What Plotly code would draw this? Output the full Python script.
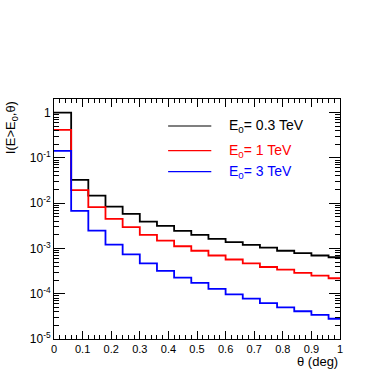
import plotly.graph_objects as go

# bin lower edges in theta (deg); histogram bins are 0.06 wide, last one runs past 1
theta_lo = [0.00, 0.06, 0.12, 0.18, 0.24, 0.30, 0.36, 0.42, 0.48,
            0.54, 0.60, 0.66, 0.72, 0.78, 0.84, 0.90, 0.96]
theta_hi_last = 1.02

# integral flux I(E>E0, theta)
I_03TeV = [1.0, 0.0327, 0.0147, 0.0084, 0.0058, 0.0039, 0.00316, 0.00245, 0.0020,
           0.00163, 0.00138, 0.0012, 0.00104, 0.00089, 0.00079, 0.00070, 0.00064]
I_1TeV = [0.415, 0.0194, 0.0082, 0.0045, 0.00295, 0.0020, 0.00149, 0.00112, 0.00089,
          0.00070, 0.00057, 0.00047, 0.00039, 0.00034, 0.00029, 0.00025, 0.00022]
I_3TeV = [0.143, 0.0068, 0.00248, 0.00122, 0.00074, 0.00047, 0.00032, 0.000226, 0.000174,
          0.000128, 0.000097, 0.000078, 0.000062, 0.000050, 0.000041, 0.000034, 0.000028]

series = [
    ("E<sub>0</sub>= 0.3 TeV", I_03TeV, "#000000"),
    ("E<sub>0</sub>= 1 TeV", I_1TeV, "#ff0000"),
    ("E<sub>0</sub>= 3 TeV", I_3TeV, "#0000ff"),
]

FONT = "Liberation Sans, Arial, Helvetica, sans-serif"

fig = go.Figure()
for name, vals, col in series:
    fig.add_trace(go.Scatter(
        x=theta_lo + [theta_hi_last], y=vals + [vals[-1]],
        mode="lines", line=dict(color=col, width=1.8, shape="hv"),
        name=name, showlegend=False, cliponaxis=True))

# legend drawn by hand, ROOT TLegend style
leg_y = [0.8875, 0.785, 0.697]
for (name, vals, col), ly in zip(series, leg_y):
    fig.add_shape(type="line", xref="paper", yref="paper",
                  x0=0.399, x1=0.550, y0=ly, y1=ly,
                  line=dict(color=col, width=1.2))
    fig.add_annotation(xref="paper", yref="paper", x=0.605, y=ly,
                       xanchor="left", yanchor="middle", showarrow=False,
                       text=name, font=dict(color=col, size=14, family=FONT))

# axis titles, ROOT places them at the axis ends
fig.add_annotation(xref="paper", yref="paper", x=1.0, y=-0.095,
                   xanchor="right", yanchor="middle", showarrow=False,
                   text="θ (deg)", font=dict(size=13, family=FONT))
fig.add_annotation(xref="paper", yref="paper", x=-0.148, y=1.0,
                   xanchor="center", yanchor="top", showarrow=False, textangle=-90,
                   text="I(E>E<sub>0</sub>,θ)", font=dict(size=13, family=FONT))

y_major = [1e-5, 1e-4, 1e-3, 1e-2, 1e-1, 1]
y_text = ["10<sup>-5</sup>", "10<sup>-4</sup>", "10<sup>-3</sup>",
          "10<sup>-2</sup>", "10<sup>-1</sup>", "1"]
y_minor = [m * d for d in [1e-5, 1e-4, 1e-3, 1e-2, 1e-1, 1] for m in range(2, 10) if m * d <= 2.0]

fig.update_xaxes(range=[0, 1], tickmode="array",
                 tickvals=[0, 0.1, 0.2, 0.3, 0.4, 0.5, 0.6, 0.7, 0.8, 0.9, 1.0],
                 ticktext=["0", "0.1", "0.2", "0.3", "0.4", "0.5", "0.6", "0.7", "0.8", "0.9", "1"],
                 ticks="inside", ticklen=8, tickcolor="black", tickwidth=1,
                 minor=dict(ticks="inside", ticklen=4, tickcolor="black",
                            tickvals=[i * 0.02 for i in range(51)]),
                 showline=True, linecolor="black", linewidth=1, mirror="allticks",
                 showgrid=False, zeroline=False,
                 tickfont=dict(size=11, family=FONT, color="black"))
fig.update_yaxes(type="log", range=[-5, 0.302], tickmode="array",
                 tickvals=y_major, ticktext=y_text,
                 ticks="inside", ticklen=11, tickcolor="black", tickwidth=1,
                 minor=dict(ticks="inside", ticklen=5, tickcolor="black", tickvals=y_minor),
                 showline=True, linecolor="black", linewidth=1, mirror="allticks",
                 showgrid=False, zeroline=False,
                 tickfont=dict(size=12, family=FONT, color="black"))

fig.update_layout(width=390, height=374,
                  margin=dict(l=54, r=50, t=99, b=35),
                  paper_bgcolor="white", plot_bgcolor="white",
                  font=dict(family=FONT, color="black"),
                  showlegend=False)

# drop the browser's default body margin so the figure sits at the window corner
fig.write_html("out.html", config={"displayModeBar": False},
               post_script="document.body.style.margin = '0px';")
